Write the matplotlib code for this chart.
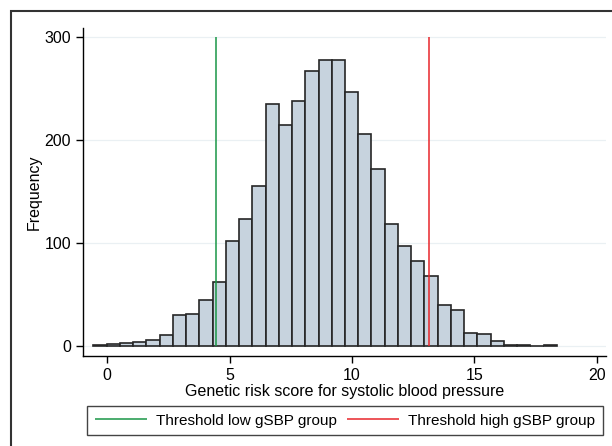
import matplotlib
matplotlib.use('Agg')
import numpy as np
import matplotlib.pyplot as plt
from matplotlib.patches import Rectangle

# histogram of the genetic risk score (bin counts)
bin_start = -0.572
bin_width = 0.5415
counts = [1, 2, 3, 4, 6, 11, 30, 31, 45, 62, 102, 123, 155, 235, 214, 238, 267,
          277, 277, 246, 206, 172, 118, 97, 82, 68, 40, 35, 13, 12, 5, 1, 1, 0, 1]
low_threshold = 4.44
high_threshold = 13.15
xticks = [0, 5, 10, 15, 20]
yticks = [0, 100, 200, 300]

plt.rcParams['font.family'] = ['Liberation Sans', 'DejaVu Sans']

fig = plt.figure(figsize=(6.12, 4.46), dpi=100)
ax = fig.add_axes([0.1356, 0.2018, 0.8544, 0.7352])

left_edges = bin_start + bin_width * np.arange(len(counts))
ax.bar(left_edges, counts, width=bin_width, align='edge',
       color='#c7d3de', edgecolor='#262626', linewidth=1.2, zorder=2)

ax.vlines(low_threshold, 0, 300, color='#1a9646', linewidth=1.1, zorder=3,
          label='Threshold low gSBP group')
ax.vlines(high_threshold, 0, 300, color='#e8262b', linewidth=1.1, zorder=3,
          label='Threshold high gSBP group')

ax.set_xlim(-0.993, 20.38)
ax.set_ylim(-9.7, 308.4)
ax.set_xticks(xticks)
ax.set_yticks(yticks)
ax.grid(axis='y', color='#eaf0f3', linewidth=0.9, zorder=0)
ax.set_axisbelow(True)

for s in ['top', 'right']:
    ax.spines[s].set_visible(False)
for s in ['left', 'bottom']:
    ax.spines[s].set_linewidth(1.0)
    ax.spines[s].set_color('black')
ax.tick_params(direction='out', length=5, width=1.0, labelsize=11.5, pad=3.5)

ax.set_xlabel('Genetic risk score for systolic blood pressure', fontsize=11.5, labelpad=0.8)
ax.set_ylabel('Frequency', fontsize=11.5, labelpad=2)

leg = fig.legend(loc='center', bbox_to_anchor=(345 / 612, 1 - 420.5 / 446), ncol=2,
                 fontsize=11, handlelength=3.45, handletextpad=0.6,
                 columnspacing=0.6, borderpad=0.5, fancybox=False,
                 edgecolor='#444444', framealpha=1)
leg.get_frame().set_linewidth(1.0)

# outer frame of the graph region (cropped at the right and bottom)
fig.patches.append(Rectangle((10.5 / 612, -0.1), 1.2, 1.1 - 11 / 446,
                             transform=fig.transFigure, fill=False,
                             edgecolor='#333333', linewidth=1.5, clip_on=False))

fig.savefig('out.png', dpi=100)
